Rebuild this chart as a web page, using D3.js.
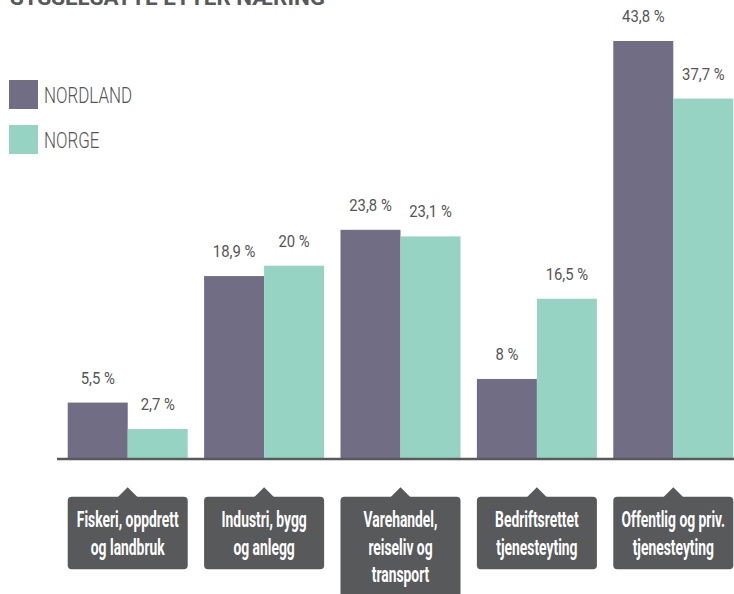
<!DOCTYPE html>
<html>
<head>
<meta charset="utf-8">
<script src="https://cdn.jsdelivr.net/npm/d3@7"></script>
<style>
  body { margin: 0; background: #fff; }
  svg { display: block; font-family: Roboto, "Open Sans", sans-serif; }
</style>
</head>
<body>
<svg id="chart" width="734" height="594"></svg>
<script>
// data
const categories = [
    "Fiskeri, oppdrett\nog landbruk",
    "Industri, bygg\nog anlegg",
    "Varehandel,\nreiseliv og\ntransport",
    "Bedriftsrettet\ntjenesteyting",
    "Offentlig og priv.\ntjenesteyting"
];
const seriesNames = ["NORDLAND", "NORGE"];
const nordland = [5.5, 18.9, 23.8, 8, 43.8];
const norge = [2.7, 20, 23.1, 16.5, 37.7];

const colors = { NORDLAND: "#706d84", NORGE: "#97d3c2" };
const dark = "#58595b";
const baseY = 459;

const svg = d3.select("#chart");

// scales
const x0 = d3.scaleBand()
    .domain(categories)
    .range([67.7, 733.3])
    .paddingInner(0.12)
    .paddingOuter(0);

const x1 = d3.scaleBand()
    .domain(seriesNames)
    .range([0, x0.bandwidth()]);

const y = d3.scaleLinear()
    .domain([0, 43.8])
    .range([454.5, 41]);

const rows = categories.map((c, i) => ({
    cat: c,
    values: [
        { key: "NORDLAND", v: nordland[i] },
        { key: "NORGE", v: norge[i] }
    ]
}));

const fmt = v => String(v).replace(".", ",") + " %";

// title (mostly outside the frame, like the original)
svg.append("text")
    .attr("x", 10)
    .attr("y", 4.5)
    .attr("fill", dark)
    .attr("font-size", 22)
    .attr("font-weight", 700)
    .attr("textLength", 315)
    .attr("lengthAdjust", "spacingAndGlyphs")
    .text("SYSSELSATTE ETTER NÆRING");

// bars
const groups = svg.append("g").selectAll("g")
    .data(rows)
    .join("g")
    .attr("transform", d => `translate(${x0(d.cat)},0)`);

groups.selectAll("rect")
    .data(d => d.values)
    .join("rect")
    .attr("x", d => x1(d.key))
    .attr("y", d => y(d.v))
    .attr("width", x1.bandwidth())
    .attr("height", d => baseY - y(d.v))
    .attr("fill", d => colors[d.key]);

groups.selectAll("text.val")
    .data(d => d.values)
    .join("text")
    .attr("class", "val")
    .attr("transform", d => `translate(${x1(d.key) + x1.bandwidth() / 2},${y(d.v) - 19}) scale(0.9,1)`)
    .attr("text-anchor", "middle")
    .attr("font-size", 16.5)
    .attr("font-weight", 400)
    .attr("fill", "#555")
    .text(d => fmt(d.v));

// baseline
svg.append("line")
    .attr("x1", 57)
    .attr("x2", 734)
    .attr("y1", baseY)
    .attr("y2", baseY)
    .attr("stroke", dark)
    .attr("stroke-width", 2.5);

// category label boxes with pointer
const boxTop = 496.7;
const labels = svg.append("g").selectAll("g")
    .data(categories)
    .join("g")
    .attr("transform", d => `translate(${x0(d)},0)`);

labels.append("rect")
    .attr("x", 0)
    .attr("y", boxTop)
    .attr("width", x0.bandwidth())
    .attr("height", d => d.split("\n").length * 27.5 + 17.6)
    .attr("rx", 4)
    .attr("fill", dark);

labels.append("path")
    .attr("d", () => {
        const c = x0.bandwidth() / 2;
        return `M${c - 10},${boxTop + 0.5} L${c},${boxTop - 9.5} L${c + 10},${boxTop + 0.5} Z`;
    })
    .attr("fill", dark);

labels.each(function(d) {
    const g = d3.select(this);
    const c = x0.bandwidth() / 2;
    d.split("\n").forEach((line, i) => {
        g.append("text")
            .attr("transform", `translate(${c},${boxTop + 30.5 + i * 27.5}) scale(0.63,1)`)
            .attr("text-anchor", "middle")
            .attr("font-size", 22)
            .attr("font-weight", 700)
            .attr("fill", "#fff")
            .text(line);
    });
});

// legend
const legend = svg.append("g").selectAll("g")
    .data(seriesNames)
    .join("g")
    .attr("transform", (d, i) => `translate(9,${80 + i * 45})`);

legend.append("rect")
    .attr("width", 29)
    .attr("height", 29)
    .attr("fill", d => colors[d]);

legend.append("text")
    .attr("transform", "translate(35,23.3) scale(0.77,1)")
    .attr("font-size", 22)
    .attr("font-weight", 300)
    .attr("fill", "#555")
    .text(d => d);
</script>
</body>
</html>
